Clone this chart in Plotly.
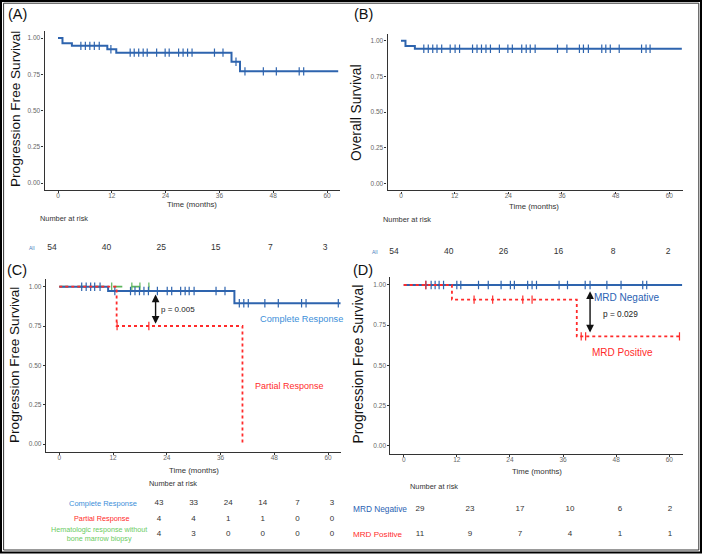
import plotly.graph_objects as go

W, H = 702, 555

# ---------------- DATA ----------------
# Panel A: progression free survival (all patients)
a_times = [0, 1.0, 3.1, 11.0, 13.0, 38.7, 40.6, 62.5]
a_surv = [1.0, 0.963, 0.946, 0.922, 0.899, 0.836, 0.77, 0.77]
a_cens = [5.1, 6.1, 7.1, 8.1, 9.2, 11.8, 16.1, 17.0, 18.0, 19.0, 19.9, 22.0, 23.9, 24.8,
          26.9, 27.9, 28.9, 29.9, 34.9, 36.8, 39.7, 41.7, 45.8, 48.7, 53.8, 54.8]

# Panel B: overall survival
b_times = [0, 1.0, 3.1, 62.8]
b_surv = [1.0, 0.963, 0.944, 0.944]
b_cens = [5.1, 6.1, 7.1, 8.05, 9.1, 11.0, 12.1, 13.1, 16.0, 17.0, 18.0, 19.0, 20.0, 22.0,
          23.9, 24.9, 27.0, 28.0, 28.9, 30.0, 35.0, 37.1, 39.9, 40.8, 41.9, 44.9, 45.8,
          46.8, 48.8, 53.8, 54.8, 55.7]

# Panel C: by response
c_cr_times = [0, 10.9, 39.1, 62.8]
c_cr_surv = [1.0, 0.973, 0.895, 0.895]
c_cr_cens = [5.0, 6.0, 7.0, 7.9, 9.1, 12.4, 15.9, 16.9, 17.9, 18.9, 19.9, 21.9, 24.1, 25.1,
             27.1, 28.1, 29.0, 30.1, 35.0, 37.0, 40.2, 41.2, 42.2, 45.9, 48.9, 54.1, 55.1, 62.3]
c_pr_times = [0, 12.8, 40.9]
c_pr_surv = [1.0, 0.75, 0.0]
c_pr_cens = [12.9, 20.0]
c_hr_times = [0, 20.2]
c_hr_surv = [1.0, 1.0]
c_hr_cens = [11.7, 16.2, 18.0, 20.0]

# Panel D: by MRD status
d_neg_times = [0, 62.9]
d_neg_surv = [1.0, 1.0]
d_neg_cens = [5.0, 6.2, 7.1, 8.0, 9.0, 12.0, 12.9, 16.9, 19.1, 22.0, 24.1, 25.0, 28.0, 29.0,
              30.0, 35.1, 37.0, 41.0, 42.1, 45.9, 49.1, 54.0, 54.9]
d_pos_times = [0, 10.9, 39.1, 62.3]
d_pos_surv = [1.0, 0.909, 0.68, 0.68]
d_pos_cens = [5.0, 15.9, 20.1, 26.9, 29.0, 40.1, 41.1, 62.3]

# Numbers at risk
risk_times = [0, 12, 24, 36, 48, 60]
a_risk_all = [54, 40, 25, 15, 7, 3]
b_risk_all = [54, 40, 26, 16, 8, 2]
c_rows = ["Complete Response", "Partial Response",
          "Hematologic response without bone marrow biopsy"]
c_risk_cr = [43, 33, 24, 14, 7, 3]
c_risk_pr = [4, 4, 1, 1, 0, 0]
c_risk_hr = [4, 3, 0, 0, 0, 0]
d_rows = ["MRD Negative", "MRD Positive"]
d_risk_neg = [29, 23, 17, 10, 6, 2]
d_risk_pos = [11, 9, 7, 4, 1, 1]

x_ticks = [0, 12, 24, 36, 48, 60]
y_ticks = [0, 0.25, 0.5, 0.75, 1.0]

# ---------------- STYLE ----------------
FONT = "Liberation Sans, Arial, sans-serif"
BLUE = "#2E64AE"
RED = "#FF2B2B"
GREEN = "#5DB55D"
LBLUE = "#3D8FD9"
LGREEN = "#6BCB5F"
XR = [-3, 63]
YR = [-0.05, 1.05]


def xdom(p0, p60, r0, r1):
    s = (p60 - p0) / 60.0
    return [(p0 + r0 * s) / W, (p0 + r1 * s) / W]


def ydom(q1, q0, r0=-0.05, r1=1.05):
    s = q0 - q1
    top = q0 - r1 * s
    bot = q0 - r0 * s
    return [1 - bot / H, 1 - top / H]


def rowdom(top_px, bot_px):
    return [1 - bot_px / H, 1 - top_px / H]


def step_val(times, surv, t):
    v = surv[0]
    for ti, si in zip(times, surv):
        if ti <= t:
            v = si
    return v


fig = go.Figure()


def km(times, surv, cens, color, dash, xa, ya, width=2):
    fig.add_trace(go.Scatter(x=times, y=surv, mode="lines", line=dict(color=color, width=width,
                             dash=dash, shape="hv"), xaxis=xa, yaxis=ya, showlegend=False,
                             hoverinfo="skip"))
    fig.add_trace(go.Scatter(x=cens, y=[step_val(times, surv, t) for t in cens], mode="markers",
                             marker=dict(symbol="line-ns-open", size=6, color=color,
                                         line=dict(color=color, width=1.2)),
                             xaxis=xa, yaxis=ya, showlegend=False, hoverinfo="skip"))


km(a_times, a_surv, a_cens, BLUE, "solid", "x", "y")
km(b_times, b_surv, b_cens, BLUE, "solid", "x2", "y2")
km(c_hr_times, c_hr_surv, c_hr_cens, GREEN, "dash", "x3", "y3", 1.8)
km(c_cr_times, c_cr_surv, c_cr_cens, BLUE, "solid", "x3", "y3")
km(c_pr_times, c_pr_surv, c_pr_cens, RED, "dot", "x3", "y3", 1.8)
km(d_neg_times, d_neg_surv, d_neg_cens, BLUE, "solid", "x4", "y4")
km(d_pos_times, d_pos_surv, d_pos_cens, RED, "dot", "x4", "y4", 1.8)


def risk_row(vals, row, xa, ya, size):
    fig.add_trace(go.Scatter(x=risk_times, y=[row] * len(vals), mode="text",
                             text=[str(v) for v in vals], textposition="middle center",
                             textfont=dict(family=FONT, size=size, color="#333"),
                             xaxis=xa, yaxis=ya, showlegend=False, cliponaxis=False,
                             hoverinfo="skip"))


risk_row(a_risk_all, "All", "x5", "y5", 8.5)
risk_row(b_risk_all, "All", "x6", "y6", 8.5)
risk_row(c_risk_cr, c_rows[0], "x7", "y7", 8)
risk_row(c_risk_pr, c_rows[1], "x7", "y7", 8)
risk_row(c_risk_hr, c_rows[2], "x7", "y7", 8)
risk_row(d_risk_neg, d_rows[0], "x8", "y8", 8)
risk_row(d_risk_pos, d_rows[1], "x8", "y8", 8)

main_x = dict(range=XR, showline=True, linecolor="#333", linewidth=1.2, ticks="outside",
              ticklen=2, tickcolor="#333", tickvals=x_ticks,
              tickfont=dict(family=FONT, size=6.5, color="#666"),
              showgrid=False, zeroline=False, fixedrange=True)
main_y = dict(range=YR, showline=True, linecolor="#333", linewidth=1.2, ticks="outside",
              ticklen=2, tickcolor="#333", tickvals=y_ticks, tickformat=".2f",
              tickfont=dict(family=FONT, size=6.5, color="#666"),
              showgrid=False, zeroline=False, fixedrange=True)
hid = dict(visible=False, showgrid=False, zeroline=False, fixedrange=True)

layout = dict(
    width=W, height=H, margin=dict(l=0, r=0, t=0, b=0),
    paper_bgcolor="white", plot_bgcolor="white", showlegend=False,
    font=dict(family=FONT, color="#222"),
    xaxis=dict(main_x, domain=xdom(58, 327, *XR), anchor="y"),
    yaxis=dict(main_y, domain=ydom(38, 183), anchor="x"),
    xaxis2=dict(main_x, domain=xdom(401, 669.3, *XR), anchor="y2"),
    yaxis2=dict(main_y, domain=ydom(40.7, 183.3), anchor="x2"),
    xaxis3=dict(main_x, domain=xdom(59.3, 328, *XR), anchor="y3"),
    yaxis3=dict(main_y, domain=ydom(286.7, 444), anchor="x3"),
    xaxis4=dict(main_x, domain=xdom(403.7, 669.3, *XR), anchor="y4"),
    yaxis4=dict(main_y, domain=ydom(285, 445.7), anchor="x4"),
    xaxis5=dict(hid, range=[0, 60], domain=[52 / W, 325 / W], anchor="y5"),
    yaxis5=dict(hid, type="category", categoryarray=["All"], range=[0.5, -0.5],
                domain=rowdom(240, 256), anchor="x5"),
    xaxis6=dict(hid, range=[0, 60], domain=[394 / W, 668 / W], anchor="y6"),
    yaxis6=dict(hid, type="category", categoryarray=["All"], range=[0.5, -0.5],
                domain=rowdom(244, 260), anchor="x6"),
    xaxis7=dict(hid, range=[0, 60], domain=[159 / W, 332 / W], anchor="y7"),
    yaxis7=dict(hid, type="category", categoryarray=c_rows, range=[2.5, -0.5],
                domain=rowdom(495.5, 542), anchor="x7"),
    xaxis8=dict(hid, range=[0, 60], domain=[420 / W, 670 / W], anchor="y8"),
    yaxis8=dict(hid, type="category", categoryarray=d_rows, range=[1.5, -0.5],
                domain=rowdom(496.5, 546.5), anchor="x8"),
)
fig.update_layout(**layout)

# pull x tick labels closer to the axis line (if supported)
for ax in ["xaxis", "xaxis2", "xaxis3", "xaxis4"]:
    try:
        fig.layout[ax].ticklabelstandoff = -3
    except Exception:
        pass

ann = []


def pa(text, px, py, size, color="#222", xanchor="center", angle=0, yanchor="middle"):
    ann.append(dict(text=text, x=px / W, y=1 - py / H, xref="paper", yref="paper",
                    xanchor=xanchor, yanchor=yanchor, showarrow=False, textangle=angle,
                    font=dict(family=FONT, size=size, color=color)))


# panel letters
pa("(A)", 17, 14.5, 14.5, "#111")
pa("(B)", 363, 14.5, 14.5, "#111")
pa("(C)", 16.5, 270, 14.5, "#111")
pa("(D)", 363.3, 270, 14.5, "#111")

# y titles
pa("Progression Free Survival", 15, 109, 13.6, "#111", angle=-90)
pa("Overall Survival", 356, 113, 13.8, "#111", angle=-90)
pa("Progression Free Survival", 14, 365, 13.6, "#111", angle=-90)
pa("Progression Free Survival", 357.5, 364, 13.8, "#111", angle=-90)

# x titles
pa("Time (months)", 192, 204, 7.8, "#333")
pa("Time (months)", 534, 206, 7.8, "#333")
pa("Time (months)", 194, 470, 7.8, "#333")
pa("Time (months)", 536.7, 471.5, 7.8, "#333")

# number at risk headers
pa("Number at risk", 38, 218, 7.4, "#333", xanchor="left")
pa("Number at risk", 381, 220, 7.4, "#333", xanchor="left")
pa("Number at risk", 173, 483, 7.4, "#333")
pa("Number at risk", 408, 486, 7.4, "#333", xanchor="left")


def rowlab(text, px, row, yref, size, color, xanchor="center"):
    ann.append(dict(text=text, x=px / W, y=row, xref="paper", yref=yref, xanchor=xanchor,
                    yanchor="middle", showarrow=False,
                    font=dict(family=FONT, size=size, color=color)))


rowlab("All", 32, 0, "y5", 5, "#4A7FC1")
rowlab("All", 375, 0, "y6", 5, "#4A7FC1")
rowlab("Complete Response", 103, 0, "y7", 7.5, LBLUE)
rowlab("Partial Response", 102, 1, "y7", 7.3, RED)
rowlab("Hematologic response without<br>bone marrow biopsy", 98.7, 2, "y7", 7.2, LGREEN)
rowlab("MRD Negative", 351, 0, "y8", 8.3, "#2A62B3", "left")
rowlab("MRD Positive", 351, 1, "y8", 8.1, RED, "left")


def da(text, x, y, xr, yr, size, color):
    ann.append(dict(text=text, x=x, y=y, xref=xr, yref=yr, showarrow=False,
                    xanchor="center", yanchor="middle",
                    font=dict(family=FONT, size=size, color=color)))


da("Hematological response without bone marrow biopsy", 33.2, 1.068, "x3", "y3", 8.3, LGREEN)
da("Complete Response", 54.1, 0.795, "x3", "y3", 9.2, LBLUE)
da("Partial Response", 51.4, 0.369, "x3", "y3", 9.0, RED)
da("p = 0.005", 26.5, 0.858, "x3", "y3", 8.0, "#222")
da("MRD Negative", 50.3, 0.925, "x4", "y4", 10, "#2A62B3")
da("MRD Positive", 49.4, 0.577, "x4", "y4", 10, RED)
da("p = 0.029", 49.0, 0.82, "x4", "y4", 8.3, "#222")

# double-headed arrows
for xa, ya, xv, y0, y1 in [("x3", "y3", 21.5, 0.96, 0.765), ("x4", "y4", 42.1, 0.97, 0.705)]:
    ann.append(dict(x=xv, y=y1, ax=xv, ay=y0, xref=xa, yref=ya, axref=xa, ayref=ya,
                    text="", showarrow=True, arrowhead=2, startarrowhead=2,
                    arrowside="end+start", arrowwidth=1.4, arrowsize=1.1,
                    startarrowsize=1.1, arrowcolor="#111"))

fig.update_layout(annotations=ann)

# outer frame (double line)
fig.add_shape(type="rect", xref="paper", yref="paper", x0=1 / W, x1=701 / W,
              y0=1 - 552.5 / H, y1=1 - 1 / H, line=dict(color="#000", width=2))
fig.add_shape(type="rect", xref="paper", yref="paper", x0=3.6 / W, x1=698.8 / W,
              y0=1 - 550 / H, y1=1 - 3.2 / H, line=dict(color="#333", width=1))

fig.write_html("out.html")
